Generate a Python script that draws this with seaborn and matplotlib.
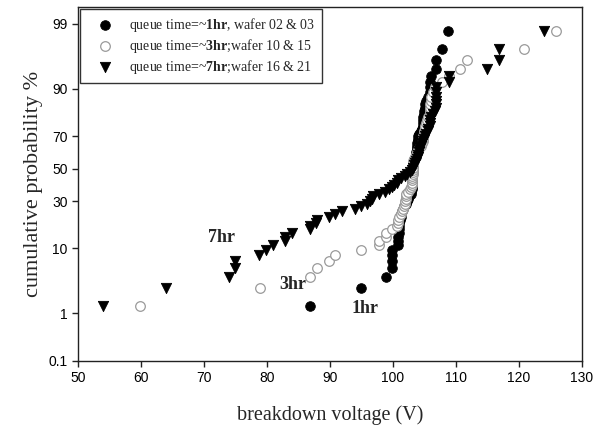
import numpy as np
import pandas as pd
import seaborn as sns
import matplotlib as mpl
import matplotlib.pyplot as plt
from matplotlib.ticker import FixedLocator, FixedFormatter
from statistics import NormalDist

# breakdown voltages (V), sorted
v_1hr = [86.8, 94.9, 98.9, 99.8, 99.8, 99.9, 99.9, 100.8, 100.8, 100.8,
         100.9, 100.9, 101.0, 101.0, 101.1, 101.2, 101.2, 101.4, 101.6, 101.8,
         102.0, 102.2, 102.4, 102.6, 102.8, 102.9, 103.0, 103.0, 103.0, 103.0,
         103.0, 103.0, 103.0, 103.0, 103.1, 103.1, 103.1, 103.2, 103.2, 103.3,
         103.4, 103.6, 103.7, 103.7, 103.8, 103.8, 103.8, 103.8, 103.9, 103.9,
         104.0, 104.2, 104.4, 104.6, 104.8, 104.8, 104.8, 104.8, 104.9, 104.9,
         105.0, 105.1, 105.3, 105.6, 105.8, 105.9, 105.9, 106.0, 106.9, 106.9,
         107.8, 108.8]
v_3hr = [59.8, 78.9, 86.8, 87.9, 89.9, 90.8, 94.9, 97.8, 97.8, 98.9,
         98.9, 99.8, 100.7, 100.8, 100.8, 100.9, 101.2, 101.4, 101.6, 101.8,
         101.9, 101.9, 102.0, 102.0, 102.1, 102.4, 102.7, 102.9, 103.0, 103.0,
         103.0, 103.0, 103.0, 103.1, 103.1, 103.1, 103.1, 103.2, 103.2, 103.2,
         103.3, 103.5, 103.7, 103.8, 104.0, 104.2, 104.4, 104.6, 104.8, 104.8,
         104.8, 104.9, 104.9, 105.0, 105.1, 105.2, 105.4, 105.6, 105.8, 105.9,
         105.9, 105.9, 106.0, 106.1, 106.3, 106.6, 107.7, 108.9, 110.7, 111.8,
         120.8, 125.9]
v_7hr = [53.9, 63.9, 73.9, 74.9, 74.9, 78.8, 79.8, 80.9, 82.8, 82.9,
         83.9, 86.8, 86.9, 87.8, 87.9, 89.9, 90.8, 91.9, 93.9, 94.9,
         95.9, 96.3, 96.6, 96.8, 97.8, 98.7, 99.3, 99.8, 100.2, 100.6,
         100.8, 101.3, 101.9, 102.3, 102.7, 103.0, 103.1, 103.3, 103.5, 103.7,
         103.8, 104.0, 104.0, 104.1, 104.2, 104.3, 104.5, 104.6, 104.8, 104.9,
         105.1, 105.3, 105.6, 105.6, 105.8, 105.9, 105.9, 106.1, 106.4, 106.6,
         106.8, 106.9, 106.9, 106.9, 106.9, 106.9, 108.9, 108.9, 114.9, 116.9,
         116.9, 123.9]

labels = [r'queue time=~$\mathbf{1hr}$, wafer 02 & 03',
          r'queue time=~$\mathbf{3hr}$;wafer 10 & 15',
          r'queue time=~$\mathbf{7hr}$;wafer 16 & 21']

prob_ticks = [0.1, 1, 10, 30, 50, 70, 90, 99]
prob_ticklabels = ['0.1', '1', '10', '30', '50', '70', '90', '99']
volt_ticks = [50, 60, 70, 80, 90, 100, 110, 120, 130]

# text labels next to the lower tails: (voltage, percent)
tags = {'7hr': (72.8, 13.5), '3hr': (84.1, 3.1), '1hr': (95.5, 1.25)}

SERIF = ['Liberation Serif', 'DejaVu Serif']


def toPct(v):
    # plotting position rank/(n+1), in percent
    n = len(v)
    return 100.0*np.arange(1, n+1)/(n+1)

_nd = NormalDist()
_ppf = np.vectorize(lambda p: _nd.inv_cdf(min(max(p/100.0, 1e-9), 1-1e-9)), otypes=[float])
_cdf = np.vectorize(lambda z: 100.0*_nd.cdf(z), otypes=[float])

def fwd(p):
    return _ppf(np.asarray(p, dtype=float))

def inv(z):
    return _cdf(np.asarray(z, dtype=float))


sns.set_style('ticks')
mpl.rcParams['font.family'] = ['Liberation Sans', 'DejaVu Sans']
mpl.rcParams['mathtext.fontset'] = 'custom'
mpl.rcParams['mathtext.rm'] = 'Liberation Serif'
mpl.rcParams['mathtext.bf'] = 'Liberation Serif:bold'
mpl.rcParams['axes.edgecolor'] = '#222222'
mpl.rcParams['axes.linewidth'] = 1.0

fig, ax = plt.subplots(figsize=(6.02, 4.30), dpi=100)
fig.subplots_adjust(left=78/602, right=582/602, bottom=1-361/430, top=1-7/430)

d1 = pd.DataFrame({'V': v_1hr, 'pct': toPct(v_1hr)})
d3 = pd.DataFrame({'V': v_3hr, 'pct': toPct(v_3hr)})
d7 = pd.DataFrame({'V': v_7hr, 'pct': toPct(v_7hr)})

sns.scatterplot(data=d1, x='V', y='pct', ax=ax, marker='o', s=48,
                color='black', edgecolor='black', linewidth=0.6, label=labels[0])
sns.scatterplot(data=d3, x='V', y='pct', ax=ax, marker='o', s=48,
                color='white', edgecolor='#9a9a9a', linewidth=0.9, label=labels[1])
sns.scatterplot(data=d7, x='V', y='pct', ax=ax, marker='v', s=55,
                color='black', edgecolor='black', linewidth=0.6, label=labels[2])

ax.set_yscale('function', functions=(fwd, inv))
ax.set_ylim(0.1, 99.53)
ax.set_xlim(50, 130)
ax.yaxis.set_major_locator(FixedLocator(prob_ticks))
ax.yaxis.set_major_formatter(FixedFormatter(prob_ticklabels))
ax.yaxis.set_minor_locator(FixedLocator([]))
ax.set_xticks(volt_ticks)
ax.tick_params(direction='out', length=4, width=1, colors='#222222',
               labelsize=10, labelcolor='black')

for txt, (x, y) in tags.items():
    ax.text(x, y, txt, ha='center', va='center', fontsize=13,
            fontweight='bold', family=SERIF)

ax.set_xlabel('breakdown voltage (V)', fontsize=14.5, labelpad=14, family=SERIF)
ax.set_ylabel('cumulative probability %', fontsize=16, labelpad=4, family=SERIF)

leg = ax.legend(loc='upper left', frameon=True, fancybox=False,
                prop={'family': SERIF, 'size': 10},
                borderaxespad=0.15, borderpad=0.5, labelspacing=0.2,
                handlelength=2.6, handletextpad=0.4)
leg.get_frame().set_edgecolor('black')
leg.get_frame().set_linewidth(1.0)

sns.despine(ax=ax, top=False, right=False)
plt.savefig('out.png', dpi=100)
plt.close()
